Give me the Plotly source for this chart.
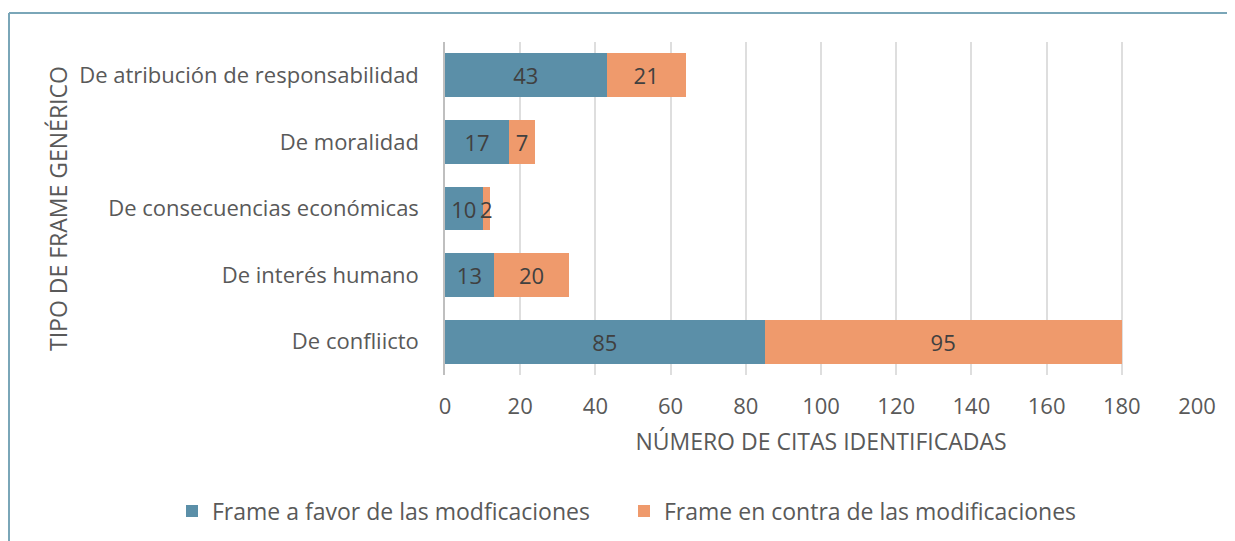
import plotly.graph_objects as go

categories = ["De confliicto", "De interés humano", "De consecuencias económicas",
              "De moralidad", "De atribución de responsabilidad"]
a_favor = [85, 13, 10, 17, 43]
en_contra = [95, 20, 2, 7, 21]
x_ticks = [0, 20, 40, 60, 80, 100, 120, 140, 160, 180, 200]

FONT = "Open Sans"
TXT = "#595959"
W, H = 1235, 541
OFF = 8  # page body margin
# desired screen positions of plot area
SL, SR, ST, SB = 445, 1197, 42, 375
L, T = SL - OFF, ST - OFF
R = W - (SR - OFF)
B = H - (SB - OFF)
pw, ph = W - L - R, H - T - B

def px_x(p):
    return (p - OFF - L) / pw

def px_y(p):
    return (H - B - (p - OFF)) / ph

fig = go.Figure()
fig.add_trace(go.Bar(
    y=categories, x=a_favor, orientation="h",
    name="Frame a favor de las modficaciones",
    marker=dict(color="#5b8fa8", line=dict(width=0)),
    text=a_favor, textposition="inside", insidetextanchor="middle",
    textfont=dict(family=FONT, size=22, color="#404040"),
    constraintext="none", legend="legend",
))
fig.add_trace(go.Bar(
    y=categories, x=en_contra, orientation="h",
    name="Frame en contra de las modificaciones",
    marker=dict(color="#ef9a6c", line=dict(width=0)),
    text=en_contra, textposition="inside", insidetextanchor="middle",
    textfont=dict(family=FONT, size=22, color="#404040"),
    constraintext="none", legend="legend2",
))

leg_common = dict(orientation="h", yanchor="middle", xanchor="left",
                  font=dict(family=FONT, size=23, color=TXT),
                  itemwidth=30, bgcolor="rgba(0,0,0,0)", borderwidth=0)

fig.update_layout(
    width=W, height=H,
    barmode="stack", bargap=0.34,
    plot_bgcolor="white", paper_bgcolor="white",
    margin=dict(l=L, r=R, t=T, b=B, autoexpand=False),
    font=dict(family=FONT, size=22, color=TXT),
    uniformtext=dict(mode="show", minsize=22),
    showlegend=True,
    legend=dict(x=px_x(172), y=px_y(511), **leg_common),
    legend2=dict(x=px_x(624), y=px_y(511), **leg_common),
    xaxis=dict(range=[0, 200], tickvals=x_ticks, showgrid=True,
               gridcolor="#dedede", gridwidth=1.5, zeroline=False,
               showline=False, ticks="", ticklabelstandoff=16,
               tickfont=dict(family=FONT, size=22, color=TXT),
               title=dict(text="NÚMERO DE CITAS IDENTIFICADAS", standoff=14,
                          font=dict(family=FONT, size=23, color=TXT))),
    yaxis=dict(showline=True, linecolor="#bfbfbf", linewidth=1.5,
               ticks="", ticklabelstandoff=20, showgrid=False,
               tickfont=dict(family=FONT, size=22, color=TXT)),
    annotations=[dict(text="TIPO DE FRAME GENÉRICO", textangle=-90,
                      xref="paper", yref="paper", x=px_x(58), y=px_y(209),
                      xanchor="center", yanchor="middle", showarrow=False,
                      font=dict(family=FONT, size=23, color=TXT))],
    shapes=[
        dict(type="line", xref="paper", yref="paper", x0=px_x(9), x1=px_x(1250),
             y0=px_y(13), y1=px_y(13), line=dict(color="#7aa6b8", width=2)),
        dict(type="line", xref="paper", yref="paper", x0=px_x(9), x1=px_x(9),
             y0=px_y(13), y1=px_y(560), line=dict(color="#7aa6b8", width=2)),
    ],
)

fig.write_html("out.html")
